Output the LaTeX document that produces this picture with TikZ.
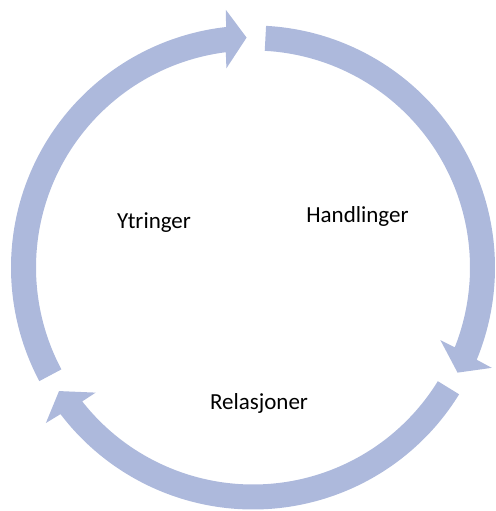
\documentclass[tikz,border=0pt]{standalone}
\usepackage{fontspec}
\setmainfont{Carlito}
\usetikzlibrary{calc}
\definecolor{cyclefill}{RGB}{173,185,220}
\begin{document}
\begin{tikzpicture}[x=1pt,y=1pt,
  cyclearrow/.style={fill=cyclefill,draw=none},
  steplabel/.style={font=\fontsize{23}{27}\selectfont,anchor=base,inner sep=0pt,text=black}]
\useasboundingbox (0,0) rectangle (495,511);
\coordinate (c) at (253,243.5);
% three curved block arrows running clockwise round the cycle
% (tail angle / tip angle); band radii 217..242, head radii 201..259
\foreach \tail/\tip in {208/91.6, 86.9/-27.2, -31.6/-147.5}{
  \pgfmathsetmacro{\hout}{\tip+4.4}
  \pgfmathsetmacro{\bout}{\tip+4.8}
  \pgfmathsetmacro{\bin}{\tip+5.6}
  \pgfmathsetmacro{\hin}{\tip+6.0}
  \fill[cyclearrow]
    ($(c)+(\tail:242pt)$) arc[start angle=\tail, end angle=\bout, radius=242pt]
    -- ($(c)+(\hout:259pt)$)
    -- ($(c)+(\tip:230pt)$)
    -- ($(c)+(\hin:201pt)$)
    -- ($(c)+(\bin:217pt)$)
    arc[start angle=\bin, end angle=\tail, radius=217pt]
    -- cycle;
}
\node[steplabel] (ytringer) at (154,282.3) {Ytringer};
\node[steplabel] (handlinger) at (357.5,288.3) {Handlinger};
\node[steplabel] (relasjoner) at (259,101.7) {Relasjoner};
\end{tikzpicture}
\end{document}
